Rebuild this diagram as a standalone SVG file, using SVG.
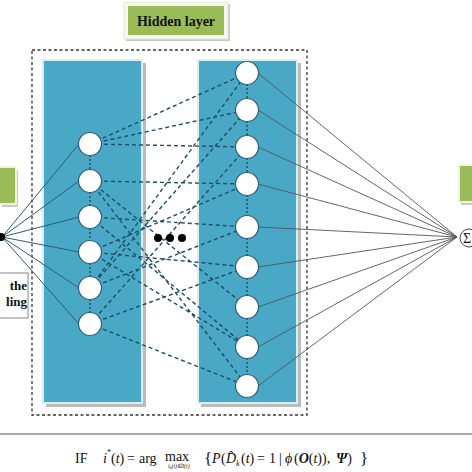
<svg xmlns="http://www.w3.org/2000/svg" width="472" height="472" viewBox="0 0 472 472">
<style>
.panel{fill:#49a8c6;stroke:#d8eef5;stroke-width:2}
.shadow{fill:#b8bcbf}
.node{fill:#fff;stroke:#2b5d72;stroke-width:1.2}
.dash{stroke:#1e4d66;stroke-width:1.4;stroke-dasharray:4 3;fill:none}
.dot{stroke:#1e4d66;stroke-width:1.4;stroke-dasharray:2 2;fill:none}
.solid{stroke:#2e5b6e;stroke-width:1;fill:none}
.out{stroke:#555;stroke-width:0.9;fill:none}
.green{fill:#9bbb59}
.lbl{font-family:"Liberation Serif",serif;font-weight:bold;fill:#111}
.f{font-family:"Liberation Serif",serif;fill:#111;font-size:14px}
.i{font-style:italic}
</style>
<rect width="472" height="472" fill="#fff"/>
<g id="hidden-label">
<rect x="126" y="4" width="104" height="37" fill="#c9c9c9"/>
<rect x="124" y="2" width="104" height="37" fill="#f4f7ec" stroke="#e3e8d6"/>
<rect x="128" y="6" width="96" height="29" class="green"/>
<text x="176" y="26" text-anchor="middle" class="lbl" font-size="14">Hidden layer</text>
</g>
<rect x="32" y="50" width="275" height="365" fill="none" stroke="#333" stroke-width="1.3" stroke-dasharray="3 2.5"/>
<g id="panel-left">
<rect x="46" y="63" width="100" height="344" class="shadow"/>
<rect x="43" y="60" width="99" height="343" class="panel"/>
</g>
<g id="panel-right">
<rect x="201" y="63" width="100" height="344" class="shadow"/>
<rect x="198" y="60" width="99" height="343" class="panel"/>
</g>
<g id="input-label">
<rect x="2" y="170" width="16" height="37" fill="#c9c9c9"/>
<rect x="-2" y="167" width="18" height="37" class="green" stroke="#eef3e2" stroke-width="2"/>
</g>
<g id="input-text">
<rect x="-2" y="273" width="30" height="45" fill="#fff" stroke="#888" stroke-width="1"/>
<text x="27" y="290" text-anchor="end" class="lbl" font-size="13">the</text>
<text x="27" y="306" text-anchor="end" class="lbl" font-size="13">ling</text>
</g>
<g id="output-label">
<rect x="461" y="168" width="14" height="37" fill="#c9c9c9"/>
<rect x="459" y="165" width="16" height="37" class="green" stroke="#eef3e2" stroke-width="2"/>
</g>
<g id="connectors">
<path class="solid" d="M2 237L79 144M2 237L79 181M2 237L79 217M2 237L79 252M2 237L79 288M2 237L79 324"/>
<path class="out" d="M258 73L457 237M258 110L457 237M258 147L457 237M258 184L457 237M258 227L457 237M258 267L457 237M258 307L457 237M258 347L457 237M258 386L457 237"/>
<path class="dot" d="M90 155V170M90 192V206M90 228V241M90 263V277M90 299V313"/>
<path class="dot" d="M247 84V99M247 121V136M247 158V173M247 195V216M247 238V256M247 278V296M247 318V336M247 358V375"/>
<path class="dash" d="M90 144L247 73M90 144L247 110M90 144L247 147
M90 181L247 184M90 181L247 307M90 181L247 386
M90 217L247 227M90 217L247 347
M90 252L247 267M90 252L247 184M90 252L247 347
M90 288L247 73M90 288L247 110M90 288L247 227
M90 324L247 147M90 324L247 267M90 324L247 386"/>
</g>
<g id="L1"><circle cx="90" cy="144" r="11.5" class="node"/></g>
<g id="L2"><circle cx="90" cy="181" r="11.5" class="node"/></g>
<g id="L3"><circle cx="90" cy="217" r="11.5" class="node"/></g>
<g id="L4"><circle cx="90" cy="252" r="11.5" class="node"/></g>
<g id="L5"><circle cx="90" cy="288" r="11.5" class="node"/></g>
<g id="L6"><circle cx="90" cy="324" r="11.5" class="node"/></g>
<g id="R1"><circle cx="247" cy="73" r="11.5" class="node"/></g>
<g id="R2"><circle cx="247" cy="110" r="11.5" class="node"/></g>
<g id="R3"><circle cx="247" cy="147" r="11.5" class="node"/></g>
<g id="R4"><circle cx="247" cy="184" r="11.5" class="node"/></g>
<g id="R5"><circle cx="247" cy="227" r="11.5" class="node"/></g>
<g id="R6"><circle cx="247" cy="267" r="11.5" class="node"/></g>
<g id="R7"><circle cx="247" cy="307" r="11.5" class="node"/></g>
<g id="R8"><circle cx="247" cy="347" r="11.5" class="node"/></g>
<g id="R9"><circle cx="247" cy="386" r="11.5" class="node"/></g>
<g id="ellipsis">
<circle cx="158" cy="238" r="4" fill="#000"/>
<circle cx="170" cy="238" r="4" fill="#000"/>
<circle cx="182" cy="238" r="4" fill="#000"/>
</g>
<g id="input-node"><circle cx="1" cy="237" r="4" fill="#000"/></g>
<g id="output-node">
<circle cx="469" cy="238" r="9" fill="#fff" stroke="#444" stroke-width="1"/>
<text x="463" y="243" class="f" font-size="13">Σ</text>
</g>
<line x1="0" y1="434" x2="472" y2="434" stroke="#888" stroke-width="1.5"/>
<g id="formula" class="f">
<text x="75" y="463">IF</text>
<text x="103" y="463" class="i">i</text>
<text x="107" y="455" style="font-size:8px">*</text>
<text x="111" y="463">(<tspan class="i">t</tspan>)</text>
<text x="127" y="463">=</text>
<text x="139" y="463">arg</text>
<text x="165" y="461">max</text>
<text x="168" y="468" style="font-size:6px" class="i">i<tspan dy="1" style="font-size:4px">k</tspan><tspan dy="-1">(t)∈I(t)</tspan></text>
<text x="204" y="464" style="font-size:17px">{</text>
<text x="212" y="463" class="i">P</text>
<text x="221" y="463">(</text>
<text x="226" y="463" class="i">D̂</text>
<text x="236" y="466" style="font-size:8px" class="i">k</text>
<text x="241" y="463">(<tspan class="i">t</tspan>)</text>
<text x="257" y="463">=</text>
<text x="269" y="463">1</text>
<text x="279" y="463">|</text>
<text x="285" y="463" class="i">ϕ</text>
<text x="294" y="463">(<tspan font-weight="bold" class="i">O</tspan>(<tspan class="i">t</tspan>)),</text>
<text x="336" y="463"><tspan font-weight="bold" class="i">Ψ</tspan>)</text>
<text x="360" y="464" style="font-size:17px">}</text>
</g>
</svg>
